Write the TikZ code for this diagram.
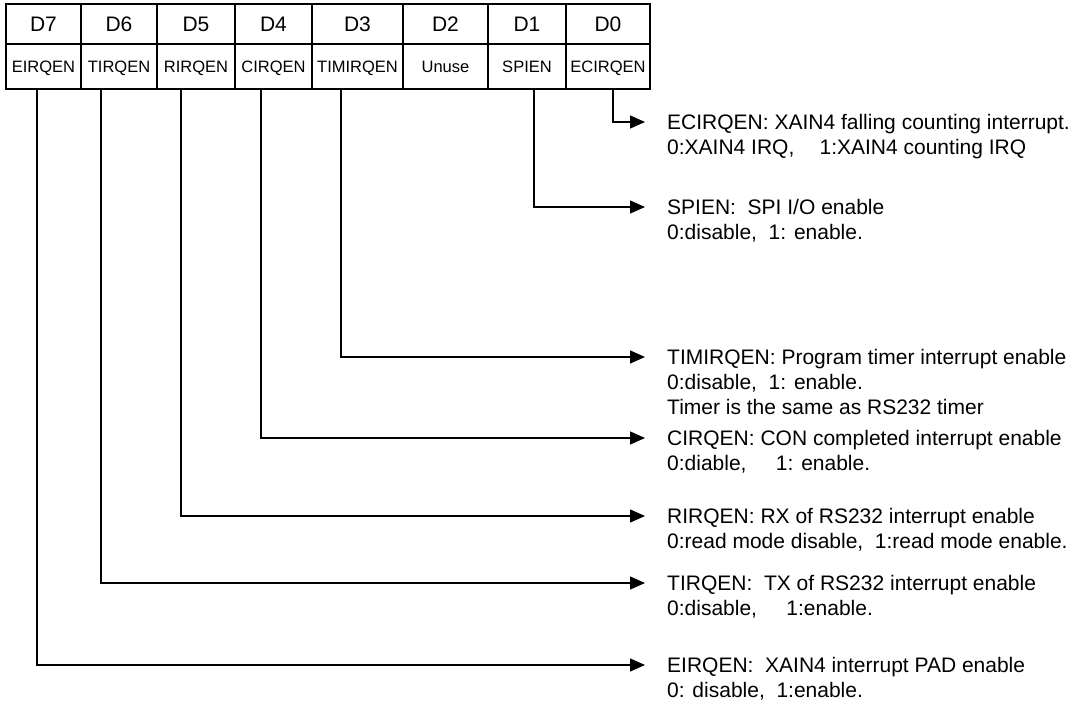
\documentclass[tikz,border=0pt]{standalone}
\usepackage{fontspec}
\setmainfont{Liberation Sans}
\usetikzlibrary{arrows.meta,calc}
\begin{document}
\begin{tikzpicture}[x=1pt,y=-1pt,
  hcell/.style={draw,line width=1.8pt,inner sep=0pt,minimum height=40pt,text height=15pt,text depth=0pt,font=\fontsize{21}{24}\selectfont},
  bcell/.style={draw,line width=1.8pt,inner sep=0pt,minimum height=45pt,text height=12pt,text depth=0pt,font=\fontsize{16.5}{20}\selectfont},
  desc/.style={anchor=base west,inner sep=0pt,align=left,font=\fontsize{21}{25}\selectfont},
  conn/.style={line width=1.4pt,-{Triangle[length=15pt,width=13pt]}}]
\useasboundingbox (0,0) rectangle (1077,704);
% header row
\foreach \n/\l/\r/\t in {7/6/81/D7,6/81/157/D6,5/157/235/D5,4/235/312/D4,3/312/403/D3,2/403/488/D2,1/488/566/D1,0/566/650/D0}{
  \node[hcell,minimum width={(\r-\l)*1pt}] (h\n) at ({(\l+\r)/2},24) {\t};
}
\node[bcell,minimum width=75pt] (b7) at (43.5,66.5) {EIRQEN};
\node[bcell,minimum width=76pt] (b6) at (119,66.5) {TIRQEN};
\node[bcell,minimum width=78pt] (b5) at (196,66.5) {RIRQEN};
\node[bcell,minimum width=77pt] (b4) at (273.5,66.5) {CIRQEN};
\node[bcell,minimum width=91pt] (b3) at (357.5,66.5) {TIMIRQEN};
\node[bcell,minimum width=85pt] (b2) at (445.5,66.5) {Unuse};
\node[bcell,minimum width=78pt] (b1) at (527,66.5) {SPIEN};
\node[bcell,minimum width=84pt] (b0) at (608,66.5) {ECIRQEN};
% descriptions (base anchor = baseline of the last line)
\node[desc] (t0) at (667,154) {ECIRQEN: XAIN4 falling counting interrupt.\\0:XAIN4 IRQ,\hspace{1.2em}1:XAIN4 counting IRQ};
\node[desc] (t1) at (667,239) {SPIEN:\ \ SPI I/O enable\\0:disable,\ \ 1: enable.};
\node[desc] (t3) at (667,414) {TIMIRQEN: Program timer interrupt enable\\0:disable,\ \ 1: enable.\\Timer is the same as RS232 timer};
\node[desc] (t4) at (667,470) {CIRQEN: CON completed interrupt enable\\0:diable,\hspace{1.4em}1: enable.};
\node[desc] (t5) at (667,548) {RIRQEN: RX of RS232 interrupt enable\\0:read mode disable,\ \ 1:read mode enable.};
\node[desc] (t6) at (667,615) {TIRQEN:\ \ TX of RS232 interrupt enable\\0:disable,\hspace{1.4em}1:enable.};
\node[desc] (t7) at (667,697) {EIRQEN:\ \ XAIN4 interrupt PAD enable\\0: disable,\ \ 1:enable.};
% connectors
\draw[conn] (b0.south west) ++(48,0) |- ($(t0.base west)+(-22,-32)$);
\draw[conn] (b1.south west) ++(47,0) |- ($(t1.base west)+(-22,-32)$);
\draw[conn] (b3.south west) ++(30,0) |- ($(t3.base west)+(-22,-57)$);
\draw[conn] (b4.south west) ++(27,0) |- ($(t4.base west)+(-22,-32)$);
\draw[conn] (b5.south west) ++(25,0) |- ($(t5.base west)+(-22,-32)$);
\draw[conn] (b6.south west) ++(21,0) |- ($(t6.base west)+(-22,-32)$);
\draw[conn] (b7.south west) ++(32,0) |- ($(t7.base west)+(-22,-32)$);
\end{tikzpicture}
\end{document}
